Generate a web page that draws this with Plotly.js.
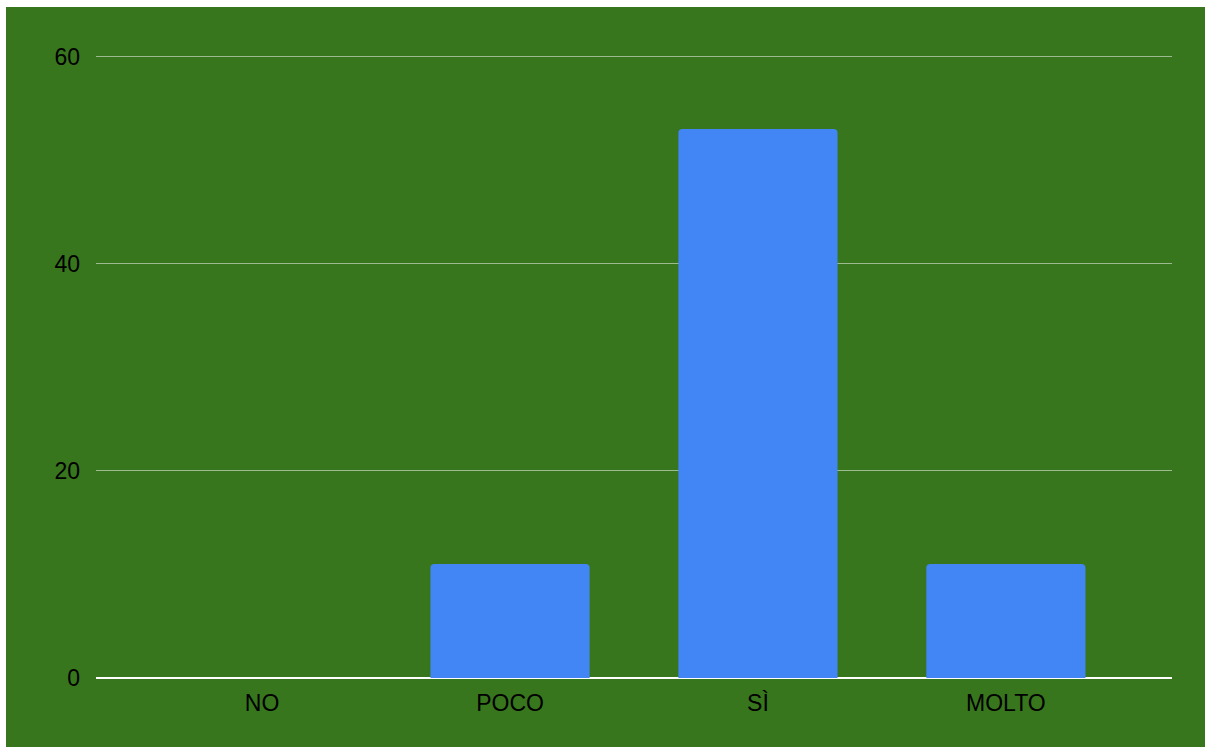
<!DOCTYPE html>
<html><head><meta charset="utf-8">
<script src="https://cdn.plot.ly/plotly-3.0.1.min.js"></script>
<style>html,body{margin:0;padding:0;background:#fff;}#chart{position:absolute;left:6px;top:7px;width:1199px;height:740px;}</style>
</head><body><div id="chart"></div>
<script>
const categories = ["NO", "POCO", "SÌ", "MOLTO"];
const values = [0, 11, 53, 11];
const yTicks = [0, 20, 40, 60];

Plotly.newPlot('chart', [{
  type: 'bar', x: categories, y: values,
  marker: {color: '#4285f4', cornerradius: 4},
  hoverinfo: 'none'
}], {
  width: 1199, height: 740,
  paper_bgcolor: '#38761d', plot_bgcolor: '#38761d',
  margin: {l: 90, r: 33, t: 48, b: 69},
  bargap: 0.358,
  showlegend: false,
  font: {family: 'Liberation Sans, Arial, sans-serif', size: 23, color: '#000'},
  xaxis: {range: [-0.67, 3.67], showgrid: false, showline: false, zeroline: false, ticks: '', ticklabelstandoff: 9, tickfont: {size: 23, color: '#000'}},
  yaxis: {range: [0, 60.15], tickvals: yTicks, ticktext: yTicks.map(String), showgrid: true, gridcolor: 'rgba(255,255,255,0.5)', gridwidth: 1, zeroline: true, zerolinecolor: '#ffffff', zerolinewidth: 2, showline: false, ticks: '', ticklabelstandoff: 15, tickfont: {size: 23, color: '#000'}}
}, {staticPlot: true});
</script></body></html>
